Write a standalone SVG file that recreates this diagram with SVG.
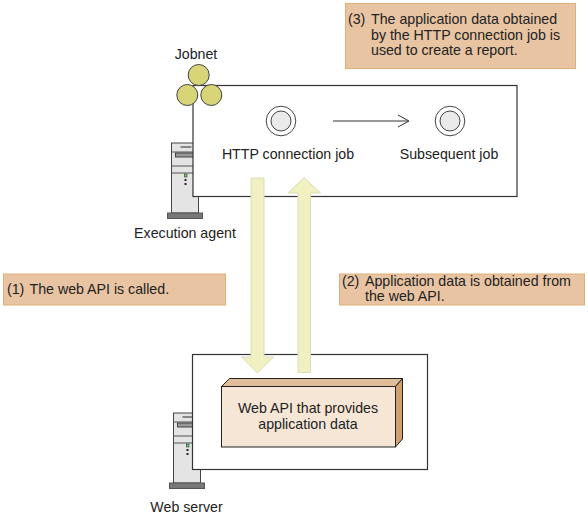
<svg xmlns="http://www.w3.org/2000/svg" width="588" height="519" viewBox="0 0 588 519">
<style>
text{font-family:"Liberation Sans",Arial,sans-serif;font-size:14.2px;fill:#222}
.note{fill:#e8c4a2;stroke:#dcb078;stroke-width:1}
.box{fill:#fff;stroke:#333;stroke-width:1.200}
.arr{fill:#f0f0c0;stroke:#dcdcb8;stroke-width:1}
.c{fill:#d8d478;stroke:#444;stroke-width:1}
.ja{fill:#fff;stroke:#444;stroke-width:1}
.jb{fill:#eaeaea;stroke:#444;stroke-width:1}
</style>
<defs>
<g id="srv">
<rect x="0" y="0" width="27" height="70" fill="#e4e4e4" stroke="#444"/>
<rect x="-4" y="70" width="35" height="5.500" fill="#777" stroke="#555"/>
<path d="M0 9H27M0 23H27M0 30H27" stroke="#555" fill="none"/>
<rect x="4" y="10" width="23" height="4" fill="#999" stroke="#444"/>
<path d="M9 4H20" stroke="#888" stroke-width="2"/>
<rect x="13" y="31" width="2.500" height="3" fill="#6d6" stroke="#333" stroke-width=".6"/>
<path d="M14 36V43" stroke="#222" stroke-width="2" stroke-dasharray="2 2"/>
</g>
</defs>
<g id="note3"><rect class="note" x="345.500" y="3.500" width="230" height="65"/>
<text x="348" y="24">(3)</text><text x="371" y="24">The application data obtained</text><text x="371" y="39.500">by the HTTP connection job is</text><text x="371" y="55">used to create a report.</text></g>
<g id="agent"><use href="#srv" x="171.500" y="143"/>
<text x="185" y="238" text-anchor="middle">Execution agent</text></g>
<g id="jobnet-box"><rect class="box" x="193" y="85.500" width="324" height="111"/></g>
<g id="jobnet"><text x="196" y="59" text-anchor="middle">Jobnet</text>
<circle class="c" cx="198.700" cy="75" r="10.500"/><circle class="c" cx="187.300" cy="95" r="10.500"/><circle class="c" cx="211.300" cy="95" r="10.500"/></g>
<g id="http-job"><circle class="ja" cx="281" cy="121" r="14.800"/><circle class="jb" cx="281" cy="121" r="10"/>
<text x="288" y="159" text-anchor="middle">HTTP connection job</text></g>
<g id="sub-job"><circle class="ja" cx="450" cy="121" r="14.800"/><circle class="jb" cx="450" cy="121" r="10"/>
<text x="449" y="159" text-anchor="middle">Subsequent job</text></g>
<g id="note1"><rect class="note" x="3.500" y="274" width="222" height="31"/>
<text x="7" y="293.500">(1)</text><text x="29.500" y="293.500">The web API is called.</text></g>
<g id="note2"><rect class="note" x="339.500" y="274" width="245" height="31"/>
<text x="342" y="286">(2)</text><text x="365" y="301">the web API.</text><text x="365" y="286">Application data is obtained from</text></g>
<g id="server"><use href="#srv" x="173.500" y="413"/>
<rect class="box" x="192.500" y="354.500" width="235" height="115"/>
<text x="186.500" y="512" text-anchor="middle">Web server</text></g>
<g id="api"><path d="M221.500 386.500L229.500 378.500H402.500L395.500 386.500Z" fill="#e0bc98" stroke="#222"/>
<path d="M395.500 386.500L402.500 378.500V439L395.500 447Z" fill="#cfa070" stroke="#222"/>
<rect x="221.500" y="386.500" width="174" height="60.500" fill="#f6e6d6" stroke="#222"/>
<text x="308" y="413" text-anchor="middle">Web API that provides</text>
<text x="308" y="428.500" text-anchor="middle">application data</text></g>
<g id="connectors">
<path class="arr" d="M251 178H264V357H273.500L257.500 373L241.500 357H251Z"/>
<path class="arr" d="M298 372.500V193H288L304 177.500L320.500 193H310.500V372.500Z"/>
<path d="M333 121H408M398 115L409 121L398 127" fill="none" stroke="#333"/>
</g>
</svg>
